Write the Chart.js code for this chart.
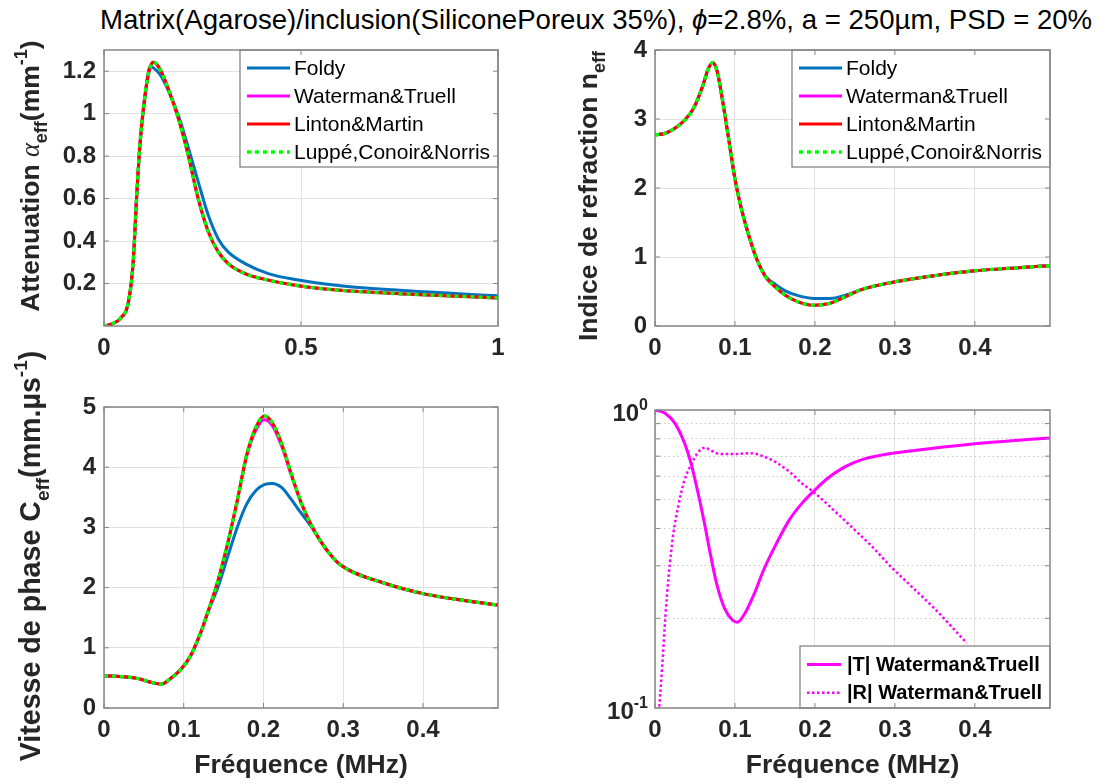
<!DOCTYPE html>
<html>
<head>
<meta charset="utf-8">
<script src="https://cdn.jsdelivr.net/npm/chart.js@4.4.1/dist/chart.umd.min.js"></script>
<style>
  body { margin: 0; background: #fff; width: 1099px; height: 784px; overflow: hidden; position: relative; }
  canvas { position: absolute; }
  #title { position: absolute; left: 100px; top: 3px; white-space: nowrap; font: 27.6px "Liberation Sans", Arial, sans-serif; color: #000; line-height: 33px; }
</style>
</head>
<body>
<div id="title">Matrix(Agarose)/inclusion(SiliconePoreux 35%), <i>ϕ</i>=2.8%, a = 250µm, PSD = 20%</div>
<canvas id="c1" width="550" height="370" style="left:0;top:0"></canvas>
<canvas id="c2" width="549" height="370" style="left:550px;top:0"></canvas>
<canvas id="c3" width="550" height="464" style="left:0;top:320px"></canvas>
<canvas id="c4" width="549" height="464" style="left:550px;top:320px"></canvas>
<script>
// --- attenuation (top left), frequency 0..1 MHz
const attenX     = [0, 0.02, 0.041, 0.062, 0.074, 0.083, 0.091, 0.104, 0.117, 0.126, 0.142, 0.163, 0.189, 0.214, 0.239, 0.265, 0.29, 0.315, 0.358, 0.417, 0.485, 0.6, 0.75, 0.9, 1.0];
const attenFoldy = [0, 0.01, 0.035, 0.114, 0.30, 0.61, 0.845, 1.08, 1.222, 1.215, 1.185, 1.11, 0.99, 0.84, 0.68, 0.52, 0.41, 0.349, 0.294, 0.247, 0.219, 0.19, 0.168, 0.152, 0.142];
const attenMulti = [0, 0.01, 0.035, 0.114, 0.30, 0.615, 0.85, 1.086, 1.22, 1.242, 1.21, 1.117, 0.976, 0.803, 0.60, 0.443, 0.349, 0.294, 0.247, 0.216, 0.192, 0.168, 0.152, 0.140, 0.132];

// --- refraction index (top right)
const indexX     = [0, 0.012, 0.024, 0.036, 0.048, 0.06, 0.066, 0.072, 0.078, 0.084, 0.092, 0.1, 0.108, 0.116, 0.124, 0.131, 0.139, 0.151, 0.163, 0.179, 0.199, 0.219, 0.239, 0.259, 0.291, 0.35, 0.4, 0.45, 0.494];
const indexFoldy = [2.77, 2.79, 2.86, 2.97, 3.15, 3.49, 3.71, 3.82, 3.68, 3.30, 2.72, 2.13, 1.70, 1.36, 1.07, 0.87, 0.71, 0.60, 0.51, 0.44, 0.40, 0.40, 0.45, 0.53, 0.62, 0.73, 0.80, 0.84, 0.875];
const indexMulti = [2.77, 2.79, 2.86, 2.97, 3.15, 3.49, 3.71, 3.82, 3.68, 3.30, 2.72, 2.13, 1.70, 1.36, 1.07, 0.87, 0.70, 0.56, 0.446, 0.35, 0.30, 0.33, 0.43, 0.53, 0.62, 0.73, 0.80, 0.84, 0.875];

// --- phase velocity (bottom left)
const speedX     = [0, 0.02, 0.04, 0.06, 0.072, 0.084, 0.096, 0.108, 0.12, 0.131, 0.143, 0.155, 0.167, 0.179, 0.191, 0.201, 0.211, 0.223, 0.235, 0.247, 0.259, 0.271, 0.283, 0.297, 0.35, 0.4, 0.45, 0.494];
const speedFoldy = [0.534, 0.523, 0.496, 0.424, 0.397, 0.496, 0.634, 0.854, 1.21, 1.62, 2.01, 2.51, 3.00, 3.39, 3.62, 3.71, 3.73, 3.66, 3.46, 3.24, 3.03, 2.785, 2.565, 2.375, 2.08, 1.90, 1.79, 1.71];
const speedWT    = [0.534, 0.523, 0.496, 0.424, 0.397, 0.496, 0.634, 0.854, 1.21, 1.625, 2.12, 2.73, 3.44, 4.19, 4.63, 4.79, 4.69, 4.34, 3.86, 3.41, 3.06, 2.78, 2.56, 2.37, 2.08, 1.90, 1.79, 1.71];
const speedMulti = [0.534, 0.523, 0.496, 0.424, 0.397, 0.496, 0.634, 0.854, 1.21, 1.625, 2.12, 2.73, 3.44, 4.21, 4.68, 4.85, 4.74, 4.38, 3.88, 3.42, 3.06, 2.78, 2.56, 2.37, 2.08, 1.90, 1.79, 1.71];

// --- |T| and |R| (bottom right, log)
const transX = [0, 0.013, 0.025, 0.037, 0.045, 0.053, 0.061, 0.069, 0.077, 0.087, 0.097, 0.103, 0.1125, 0.1245, 0.136, 0.152, 0.168, 0.184, 0.2, 0.216, 0.232, 0.248, 0.264, 0.28, 0.295, 0.35, 0.4, 0.45, 0.494];
const transT = [1.0, 0.974, 0.902, 0.773, 0.663, 0.539, 0.428, 0.331, 0.262, 0.216, 0.197, 0.194, 0.208, 0.243, 0.291, 0.357, 0.428, 0.487, 0.539, 0.59, 0.632, 0.664, 0.688, 0.703, 0.714, 0.745, 0.77, 0.79, 0.805];
const reflX  = [0.004, 0.009, 0.013, 0.017, 0.023, 0.029, 0.037, 0.045, 0.053, 0.063, 0.069, 0.081, 0.1, 0.12, 0.136, 0.152, 0.168, 0.184, 0.2, 0.224, 0.248, 0.272, 0.295, 0.32, 0.35, 0.39];
const reflR  = [0.09, 0.138, 0.203, 0.276, 0.386, 0.474, 0.583, 0.654, 0.716, 0.748, 0.734, 0.712, 0.712, 0.716, 0.698, 0.666, 0.621, 0.567, 0.526, 0.46, 0.40, 0.347, 0.298, 0.257, 0.215, 0.165];

// tick labels
const freqTicks1  = [0, 0.5, 1];
const freqTicks   = [0, 0.1, 0.2, 0.3, 0.4];
const attenTicks  = [0.2, 0.4, 0.6, 0.8, 1, 1.2];
const indexTicks  = [0, 1, 2, 3, 4];
const speedTicks  = [0, 1, 2, 3, 4, 5];
const logTicks    = [0.1, 0.2, 0.3, 0.4, 0.5, 0.6, 0.7, 0.8, 0.9, 1];

const SANS = '"Liberation Sans", Arial, sans-serif';
const BOX = '#868686';

function pts(xs, ys) { return xs.map((x, i) => ({ x: x, y: ys[i] })); }

function drawRich(ctx, segs, x, y, align, size) {
  const fontOf = k => {
    if (k === 'it') return `italic ${size}px "Liberation Serif", serif`;
    if (k === 'sub' || k === 'sup') return `bold ${Math.round(size * 0.68)}px ${SANS}`;
    return `bold ${size}px ${SANS}`;
  };
  let w = 0;
  segs.forEach(s => { ctx.font = fontOf(s[1]); w += ctx.measureText(s[0]).width; });
  let cx = align === 'center' ? x - w / 2 : align === 'right' ? x - w : x;
  ctx.textAlign = 'left';
  ctx.textBaseline = 'alphabetic';
  segs.forEach(s => {
    ctx.font = fontOf(s[1]);
    const dy = s[1] === 'sub' ? size * 0.3 : s[1] === 'sup' ? -size * 0.45 : 0;
    ctx.fillText(s[0], cx, y + dy);
    cx += ctx.measureText(s[0]).width;
  });
}

const deco = {
  id: 'deco',
  afterDatasetsDraw(chart, args, o) {
    const ctx = chart.ctx, a = chart.chartArea;
    ctx.save();
    // legend box
    if (o.legend) {
      const L = o.legend;
      const x0 = a.right - L.width;
      const y0 = L.bottom ? a.bottom - L.height : a.top;
      ctx.fillStyle = '#fff';
      ctx.fillRect(x0, y0, L.width, L.height);
      ctx.strokeStyle = BOX; ctx.lineWidth = 1.3;
      ctx.strokeRect(x0, y0, L.width, L.height);
      chart.data.datasets.forEach((ds, i) => {
        const yy = y0 + L.first + i * L.step;
        ctx.strokeStyle = ds.borderColor;
        ctx.lineWidth = ds.borderWidth;
        ctx.setLineDash(ds.borderDash || []);
        ctx.beginPath(); ctx.moveTo(x0 + L.s0, yy); ctx.lineTo(x0 + L.s1, yy); ctx.stroke();
        ctx.setLineDash([]);
        ctx.fillStyle = '#000';
        ctx.font = L.font;
        ctx.textAlign = 'left'; ctx.textBaseline = 'middle';
        ctx.fillText(ds.label, x0 + L.tx, yy + 1);
      });
    }
    // axes box + inward ticks
    ctx.strokeStyle = BOX; ctx.lineWidth = 1.5;
    ctx.strokeRect(a.left, a.top, a.right - a.left, a.bottom - a.top);
    ctx.lineWidth = 1;
    const sx = chart.scales.x, sy = chart.scales.y;
    ctx.beginPath();
    sx.ticks.forEach(t => {
      const p = sx.getPixelForValue(t.value);
      ctx.moveTo(p, a.bottom); ctx.lineTo(p, a.bottom - 5);
      ctx.moveTo(p, a.top); ctx.lineTo(p, a.top + 5);
    });
    sy.ticks.forEach(t => {
      const p = sy.getPixelForValue(t.value);
      ctx.moveTo(a.left, p); ctx.lineTo(a.left + 5, p);
      ctx.moveTo(a.right, p); ctx.lineTo(a.right - 5, p);
    });
    ctx.stroke();
    ctx.fillStyle = '#262626';
    // y title (rotated)
    if (o.yTitle) {
      ctx.save();
      ctx.translate(o.yTitleX, o.yTitleY);
      ctx.rotate(-Math.PI / 2);
      drawRich(ctx, o.yTitle, 0, 0, 'center', o.yTitleSize || 26.5);
      ctx.restore();
    }
    // x title
    if (o.xTitle) {
      ctx.font = `bold 26.5px ${SANS}`;
      ctx.textAlign = 'center'; ctx.textBaseline = 'middle';
      ctx.fillText(o.xTitle, (a.left + a.right) / 2, a.bottom + 58);
    }
    // log decade labels
    if (o.logLabels) {
      o.logLabels.forEach(l => {
        const p = sy.getPixelForValue(l[0]);
        drawRich(ctx, [['10', ''], [l[1], 'sup']], a.left - 7, p + 11, 'right', 24);
      });
    }
    ctx.restore();
  }
};

function makeChart(id, c) {
  const tickFont = { family: SANS, size: 24, weight: 'bold' };
  return new Chart(document.getElementById(id), {
    type: 'line',
    data: { datasets: c.datasets },
    options: {
      responsive: false,
      animation: false,
      events: [],
      layout: { padding: { left: 0, top: c.top, right: c.right, bottom: 0 } },
      elements: {
        point: { radius: 0 },
        line: { cubicInterpolationMode: 'monotone', borderCapStyle: 'butt', fill: false }
      },
      plugins: { legend: { display: false }, tooltip: { enabled: false }, deco: c.deco },
      scales: {
        x: {
          type: 'linear', min: c.xMin, max: c.xMax,
          afterBuildTicks: s => { s.ticks = c.xTicks.map(v => ({ value: v })); },
          afterFit: s => { s.height = c.xh; },
          grid: { color: '#e2e2e2', lineWidth: 1, drawTicks: false },
          border: { display: false },
          ticks: { font: tickFont, color: '#262626', padding: 8, maxRotation: 0, autoSkip: false, callback: v => String(v) }
        },
        y: {
          type: c.yType || 'linear', min: c.yMin, max: c.yMax,
          afterBuildTicks: s => { s.ticks = c.yTicks.map(v => ({ value: v })); },
          afterFit: s => { s.width = c.yw; },
          grid: { color: c.yGridColor || '#e2e2e2', lineWidth: 1, drawTicks: false },
          border: { display: false, dash: c.yDash || [] },
          ticks: { font: tickFont, color: '#262626', padding: 8, autoSkip: false, callback: c.yLabel || (v => String(v)) }
        }
      }
    },
    plugins: [deco]
  });
}

function fourModels(xs, foldy, wt, lm, lcn) {
  return [
    { label: 'Foldy', data: pts(xs, foldy), borderColor: '#0072BD', borderWidth: 3, order: 4 },
    { label: 'Waterman&Truell', data: pts(xs, wt), borderColor: '#FF00FF', borderWidth: 3, order: 3 },
    { label: 'Linton&Martin', data: pts(xs, lm), borderColor: '#FF0000', borderWidth: 3, order: 2 },
    { label: 'Luppé,Conoir&Norris', data: pts(xs, lcn), borderColor: '#00FF00', borderWidth: 3.5, borderDash: [4, 4], order: 1 }
  ];
}

const topLegend = { width: 258, height: 117, first: 18, step: 28, s0: 7, s1: 50, tx: 54, font: `21px ${SANS}` };

makeChart('c1', {
  datasets: fourModels(attenX, attenFoldy, attenMulti, attenMulti, attenMulti),
  top: 50, right: 52, xh: 44, yw: 104,
  xMin: 0, xMax: 1, xTicks: freqTicks1,
  yMin: 0, yMax: 1.3, yTicks: attenTicks,
  deco: {
    legend: topLegend,
    yTitle: [['Attenuation ', ''], ['α', 'it'], ['eff', 'sub'], ['(mm', ''], ['-1', 'sup'], [')', '']],
    yTitleX: 39, yTitleY: 176
  }
});

makeChart('c2', {
  datasets: fourModels(indexX, indexFoldy, indexMulti, indexMulti, indexMulti),
  top: 50, right: 49, xh: 44, yw: 105,
  xMin: 0, xMax: 0.494, xTicks: freqTicks,
  yMin: 0, yMax: 4, yTicks: indexTicks,
  deco: {
    legend: topLegend,
    yTitle: [['Indice de refraction n', ''], ['eff', 'sub']],
    yTitleX: 47, yTitleY: 196
  }
});

makeChart('c3', {
  datasets: fourModels(speedX, speedFoldy, speedWT, speedMulti, speedMulti),
  top: 87, right: 52, xh: 76, yw: 104,
  xMin: 0, xMax: 0.494, xTicks: freqTicks,
  yMin: 0, yMax: 5, yTicks: speedTicks,
  deco: {
    yTitle: [['Vitesse de phase C', ''], ['eff', 'sub'], ['(mm.µs', ''], ['-1', 'sup'], [')', '']],
    yTitleX: 40, yTitleY: 236, yTitleSize: 28.6,
    xTitle: 'Fréquence (MHz)'
  }
});

makeChart('c4', {
  datasets: [
    { label: '|T| Waterman&Truell', data: pts(transX, transT), borderColor: '#FF00FF', borderWidth: 3, order: 2 },
    { label: '|R| Waterman&Truell', data: pts(reflX, reflR), borderColor: '#FF00FF', borderWidth: 2.5, borderDash: [2.5, 2.5], order: 1 }
  ],
  top: 90, right: 49, xh: 76, yw: 105,
  xMin: 0, xMax: 0.494, xTicks: freqTicks,
  yType: 'logarithmic', yMin: 0.1, yMax: 1, yTicks: logTicks,
  yDash: [1.5, 3], yGridColor: '#c9c9c9',
  yLabel: () => '',
  deco: {
    legend: { width: 250, height: 62, bottom: true, first: 18.5, step: 28.3, s0: 7, s1: 41, tx: 47, font: `bold 20px ${SANS}` },
    xTitle: 'Fréquence (MHz)',
    logLabels: [[1, '0'], [0.1, '-1']]
  }
});
</script>
</body>
</html>
